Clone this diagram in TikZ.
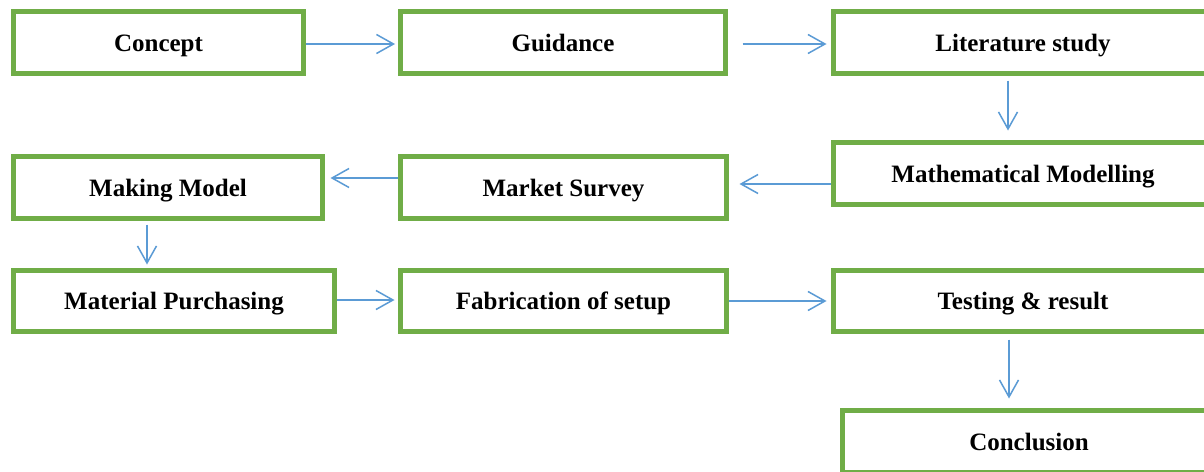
\documentclass[tikz,border=0pt]{standalone}
\usepackage{fontspec}
\setmainfont{Liberation Serif}
\usetikzlibrary{arrows.meta,calc}
\definecolor{boxgreen}{RGB}{112,173,71}
\definecolor{arrblue}{RGB}{91,155,213}
\tikzset{
  stepbox/.style={draw=boxgreen, line width=5pt, fill=white, minimum height=62pt,
    inner sep=0pt, text height=22pt, text depth=5pt,
    font=\fontsize{25}{30}\selectfont\bfseries, text=black},
  arr/.style={draw=arrblue, line width=1.5pt,
    -{Straight Barb[length=17pt,width=19pt,line width=1.5pt]}}
}
\begin{document}
\begin{tikzpicture}[x=1pt,y=-1pt]
\useasboundingbox (0,0) rectangle (1204,471);
\fill[white] (0,0) rectangle (1204,471);
\clip (0,0) rectangle (1204,471);
% nodes
\node[stepbox, minimum width=290pt] (concept) at (158.5,42.5) {Concept};
\node[stepbox, minimum width=325pt] (guidance) at (563,42.5) {Guidance};
\node[stepbox, minimum width=379pt] (lit) at (1023,42.5) {Literature study};
\node[stepbox, minimum width=379pt] (math) at (1023,173.5) {Mathematical Modelling};
\node[stepbox, minimum width=326pt] (market) at (563.5,187.5) {Market Survey};
\node[stepbox, minimum width=309pt] (making) at (168,187.5) {Making Model};
\node[stepbox, minimum width=321pt, minimum height=61pt] (material) at (174,301) {Material Purchasing};
\node[stepbox, minimum width=326pt, minimum height=61pt] (fab) at (563.5,301) {Fabrication of setup};
\node[stepbox, minimum width=379pt, minimum height=61pt] (testing) at (1023,301) {Testing \& result};
\node[stepbox, minimum width=373pt] (conclusion) at (1029,441.5) {Conclusion};
% connector anchors
\coordinate (c1) at ($(concept.east)+(0,1.5)$);
\coordinate (g1) at ($(guidance.east)+(0,1.5)$);
\coordinate (l1) at ($(lit.south)+(-15,0)$);
\coordinate (m1) at ($(math.west)+(0,10.5)$);
\coordinate (s1) at ($(market.west)+(0,-9.5)$);
\coordinate (k1) at ($(making.south)+(-21,0)$);
\coordinate (p1) at ($(material.east)+(0,-1)$);
\coordinate (f1) at (fab.east);
\coordinate (t1) at ($(testing.south)+(-14,0)$);
% connectors
\draw[arr, shorten >=3pt] (c1) -- (c1 -| guidance.west);
\draw[arr, shorten <=14.5pt, shorten >=4.5pt] (g1) -- (g1 -| lit.west);
\draw[arr, shorten <=4.5pt, shorten >=9.5pt] (l1) -- (l1 |- math.north);
\draw[arr, shorten >=10.5pt] (m1) -- (m1 -| market.east);
\draw[arr, shorten >=5.5pt] (s1) -- (s1 -| making.east);
\draw[arr, shorten <=3.5pt, shorten >=3.5pt] (k1) -- (k1 |- material.north);
\draw[arr, shorten >=3.5pt] (p1) -- (p1 -| fab.west);
\draw[arr, shorten >=4.5pt] (f1) -- (f1 -| testing.west);
\draw[arr, shorten <=5.5pt, shorten >=9.5pt] (t1) -- (t1 |- conclusion.north);
\end{tikzpicture}
\end{document}
